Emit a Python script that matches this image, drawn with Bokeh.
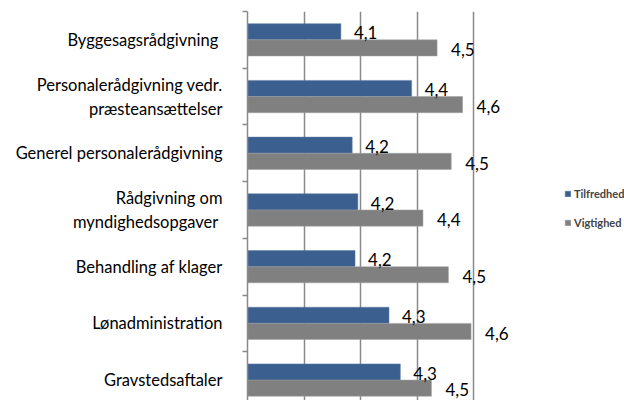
from bokeh.plotting import figure
from bokeh.models import (ColumnDataSource, Range1d, FixedTicker, Legend, LegendItem)
from bokeh.transform import dodge
from bokeh.core.properties import value
from bokeh.embed import file_html
from bokeh.resources import INLINE

categories = [
    "Byggesagsrådgivning ",
    "Personalerådgivning vedr.\npræsteansættelser",
    "Generel personalerådgivning",
    "Rådgivning om\nmyndighedsopgaver ",
    "Behandling af klager",
    "Lønadministration",
    "Gravstedsaftaler",
]
tilfredhed = [4.13, 4.38, 4.17, 4.19, 4.18, 4.30, 4.34]
vigtighed = [4.47, 4.56, 4.52, 4.42, 4.51, 4.59, 4.45]
x_ticks = [3.8, 4.0, 4.2, 4.4, 4.6, 4.8]
series_names = ["Tilfredhed", "Vigtighed"]
colors = ["#3B5F8E", "#808080"]

FONT = "Lato"
n = len(categories)
pos = [i + 0.5 for i in range(n)]

src = ColumnDataSource(dict(
    pos=pos,
    t=tilfredhed,
    v=vigtighed,
    t_lbl=[f"{x:.1f}".replace(".", ",") for x in tilfredhed],
    v_lbl=[f"{x:.1f}".replace(".", ",") for x in vigtighed],
))

p = figure(
    output_backend="svg", toolbar_location=None,
    x_range=Range1d(x_ticks[0], x_ticks[-1]),
    y_range=Range1d(6.86, 0),
    frame_width=283, frame_height=389,
    min_border_left=247, min_border_top=11, min_border_bottom=0, min_border_right=94,
    x_axis_location=None,
)
p.outline_line_color = None
p.background_fill_color = "white"
p.border_fill_color = "white"

bh = 0.285
r1 = p.hbar(y=dodge("pos", -bh / 2, range=p.y_range), left=x_ticks[0], right="t",
            height=bh, source=src, fill_color=colors[0], line_color="#5A7BAA", line_width=0.5)
r2 = p.hbar(y=dodge("pos", bh / 2, range=p.y_range), left=x_ticks[0], right="v",
            height=bh, source=src, fill_color=colors[1], line_color="#A0A0A0", line_width=0.5)

p.text(x="t", y=dodge("pos", -bh / 2 + 0.02, range=p.y_range), text="t_lbl", source=src,
       x_offset=13, text_baseline="middle", text_font=value(FONT),
       text_font_size="17px", text_color="black")
p.text(x="v", y=dodge("pos", bh / 2 + 0.03, range=p.y_range), text="v_lbl", source=src,
       x_offset=14, text_baseline="middle", text_font=value(FONT),
       text_font_size="17px", text_color="black")

# grid
p.xgrid.ticker = FixedTicker(ticks=x_ticks)
p.xgrid.grid_line_color = "#8A8A8A"
p.xgrid.grid_line_width = 1.5
p.ygrid.grid_line_color = None

# y axis
ax = p.yaxis[0]
ax.ticker = FixedTicker(ticks=pos, minor_ticks=list(range(n + 1)))
ax.major_label_overrides = {pp: c for pp, c in zip(pos, categories)}
ax.major_tick_line_color = None
ax.major_tick_out = 0
ax.major_tick_in = 0
ax.minor_tick_line_color = "#8A8A8A"
ax.minor_tick_line_width = 1.5
ax.minor_tick_out = 5
ax.minor_tick_in = 0
ax.axis_line_color = "#8A8A8A"
ax.axis_line_width = 1.5
ax.major_label_standoff = 20
ax.major_label_text_font = FONT
ax.major_label_text_font_size = "16.5px"
ax.major_label_text_color = "black"

legend = Legend(items=[LegendItem(label=series_names[0], renderers=[r1]),
                       LegendItem(label=series_names[1], renderers=[r2])],
                location=(34, 171))
legend.glyph_width = 7
legend.glyph_height = 7
legend.label_standoff = 3
legend.label_height = 14
legend.spacing = 15
legend.padding = 0
legend.margin = 0
legend.label_text_font = FONT
legend.label_text_font_size = "11px"
legend.label_text_font_style = "bold"
legend.background_fill_alpha = 0
legend.border_line_color = None
p.add_layout(legend, "right")

open("out.html", "w").write(file_html(p, INLINE))
